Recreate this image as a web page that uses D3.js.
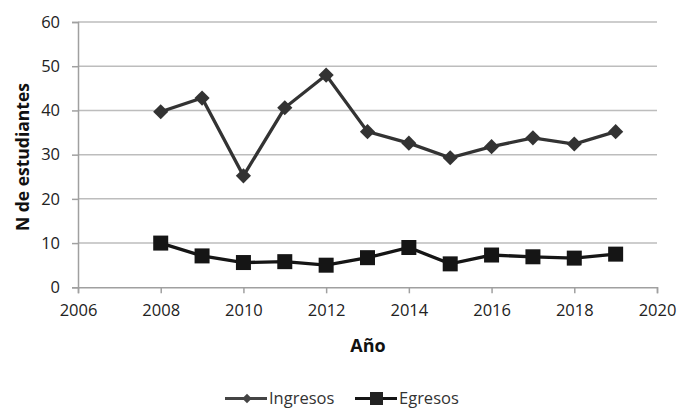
<!DOCTYPE html>
<html><head><meta charset="utf-8">
<script src="https://cdn.jsdelivr.net/npm/d3@7"></script>
<style>body{margin:0;background:#fff}svg{display:block}</style>
</head><body><div id="c"></div>
<script>
const years = [2008,2009,2010,2011,2012,2013,2014,2015,2016,2017,2018,2019];
const ingresos = [39.7,42.8,25.2,40.6,48.0,35.2,32.6,29.3,31.8,33.8,32.4,35.2];
const egresos = [10.0,7.1,5.6,5.8,5.0,6.7,9.0,5.3,7.3,6.9,6.6,7.5];
const xTicks = [2006,2008,2010,2012,2014,2016,2018,2020];
const yTicks = [0,10,20,30,40,50,60];
const seriesNames = ["Ingresos","Egresos"];

const W=678,H=410;
const font="'Open Sans', 'Liberation Sans', sans-serif";
const svg=d3.select("#c").append("svg").attr("width",W).attr("height",H);
const x=d3.scaleLinear().domain([2006,2020]).range([78,657]);
const y=d3.scaleLinear().domain([0,60]).range([287.3,22]);

svg.append("g").selectAll("line").data(yTicks.filter(d=>d>0)).join("line")
  .attr("x1",x(2006)).attr("x2",x(2020)).attr("y1",d=>y(d)).attr("y2",d=>y(d))
  .attr("stroke","#bdbdbd").attr("stroke-width",1.5);

const yAxis=svg.append("g").attr("transform",`translate(${x(2006)},0)`)
  .call(d3.axisLeft(y).tickValues(yTicks).tickSize(6).tickPadding(12));
const xAxis=svg.append("g").attr("transform",`translate(0,${y(0)})`)
  .call(d3.axisBottom(x).tickValues(xTicks).tickFormat(d3.format("d")).tickSize(6).tickPadding(11));
[yAxis,xAxis].forEach(a=>{
  a.select(".domain").attr("stroke","#a0a0a0").attr("stroke-width",1.5);
  a.selectAll(".tick line").attr("stroke","#a0a0a0").attr("stroke-width",1.5);
  a.selectAll("text").attr("font-family",font).attr("font-size",16.5).attr("fill","#222");
});

const line=d3.line().x((d,i)=>x(years[i])).y(d=>y(d));
const colors=["#333333","#151515"];
svg.append("path").datum(ingresos).attr("d",line).attr("fill","none").attr("stroke",colors[0]).attr("stroke-width",3.3);
svg.append("path").datum(egresos).attr("d",line).attr("fill","none").attr("stroke",colors[1]).attr("stroke-width",3.3);

const diamond=d3.symbol().type(d3.symbolSquare).size(115);
svg.append("g").selectAll("path").data(ingresos).join("path")
  .attr("d",diamond()).attr("fill",colors[0])
  .attr("transform",(d,i)=>`translate(${x(years[i])},${y(d)}) rotate(45)`);
svg.append("g").selectAll("rect").data(egresos).join("rect")
  .attr("x",(d,i)=>x(years[i])-7.5).attr("y",d=>y(d)-7.5).attr("width",15).attr("height",15)
  .attr("fill",colors[1]);

svg.append("text").attr("x",368).attr("y",352).attr("text-anchor","middle")
  .attr("font-family",font).attr("font-weight","bold").attr("font-size",18).attr("fill","#111").text("Año");
svg.append("text").attr("transform","translate(29,157) rotate(-90)").attr("text-anchor","middle")
  .attr("font-family",font).attr("font-weight","bold").attr("font-size",17.5).attr("fill","#111").text("N de estudiantes");

const lg=svg.append("g");
const lx=[225,355];
seriesNames.forEach((n,i)=>{
  const g=lg.append("g").attr("transform",`translate(${lx[i]},398.5)`);
  g.append("line").attr("x1",0).attr("x2",42).attr("stroke",i?colors[1]:"#444").attr("stroke-width",3);
  if(i===0) g.append("path").attr("d",d3.symbol().type(d3.symbolSquare).size(45)()).attr("transform","translate(22,0) rotate(45)").attr("fill","#444");
  else g.append("rect").attr("x",15).attr("y",-6.5).attr("width",13).attr("height",13).attr("fill","#222");
  g.append("text").attr("x",44).attr("y",5.5).attr("font-family",font).attr("font-size",16.5).attr("fill","#333").text(n);
});
</script></body></html>
